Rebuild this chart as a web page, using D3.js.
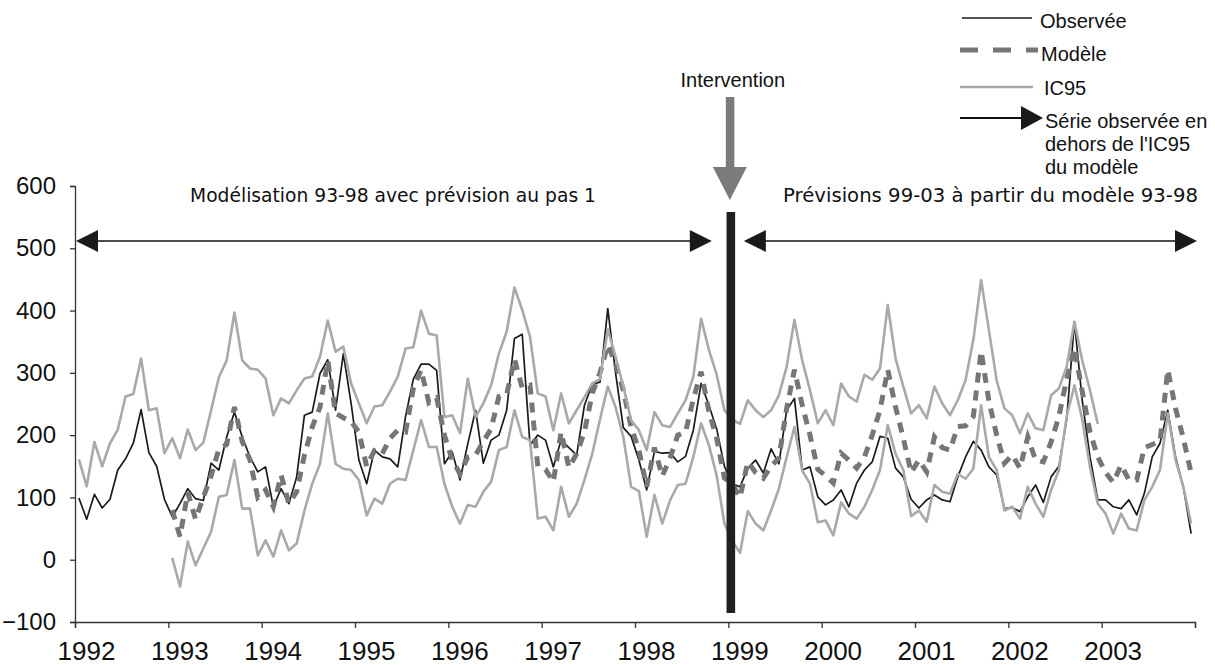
<!DOCTYPE html>
<html>
<head>
<meta charset="utf-8">
<script src="https://cdn.jsdelivr.net/npm/d3@7"></script>
<style>
  html, body { margin: 0; padding: 0; background: #ffffff; }
  svg { display: block; }
</style>
</head>
<body>
<svg id="chart" width="1215" height="665"></svg>
<script>
// ---- Data: monthly series, Jan 1992 to Dec 2003 (144 months) ----
const yearLabels = ["1992","1993","1994","1995","1996","1997","1998","1999","2000","2001","2002","2003"];
const yTickValues = [-100, 0, 100, 200, 300, 400, 500, 600];

const observed = [
  99,65,105,83,97,144,162,187,241,172,150,97,
  69,90,114,98,95,155,144,197,237,197,165,141,
  149,85,114,90,133,232,237,299,321,240,331,251,
  160,122,176,165,162,149,230,290,314,314,304,154,
  173,128,186,240,155,192,200,240,355,362,184,200,
  192,149,192,180,168,248,282,285,403,300,212,198,
  160,112,174,171,172,157,166,208,283,248,210,150,
  122,117,147,160,139,178,154,240,259,144,149,101,
  88,96,112,85,123,144,157,198,195,147,133,97,
  83,96,104,96,93,133,165,190,176,149,136,82,
  84,77,101,120,92,133,150,225,382,256,165,96,
  96,85,82,96,72,107,165,187,240,165,117,42
];

const model = [
  null,null,null,null,null,null,null,null,null,null,null,null,
  80,37,108,65,100,135,178,185,245,190,160,100,
  112,85,136,90,109,168,213,245,320,235,228,222,
  205,150,175,170,195,208,205,275,305,252,260,200,
  160,138,165,168,190,210,262,265,322,276,280,150,
  145,125,205,148,170,205,267,300,345,315,272,213,
  176,117,180,134,163,200,205,258,302,238,195,131,
  122,100,157,140,131,150,163,243,305,248,200,145,
  135,123,171,160,147,165,200,240,305,245,195,140,
  160,141,197,180,176,214,215,230,335,255,200,155,
  168,147,197,160,157,189,230,290,340,270,205,165,
  140,124,152,128,128,180,185,190,305,243,195,139
];

const icUpper = [
  161,118,189,150,187,209,262,266,323,240,243,171,
  195,163,209,176,188,240,293,320,397,320,307,305,
  291,232,259,251,272,291,294,326,384,334,342,283,
  251,219,246,248,270,294,339,341,400,363,360,229,
  232,203,291,229,251,280,331,366,437,401,358,267,
  262,208,267,219,240,261,283,290,370,326,278,224,
  208,176,237,216,213,235,256,294,387,337,297,240,
  225,218,256,240,229,240,264,310,385,320,272,219,
  240,216,283,262,254,297,289,307,409,323,278,235,
  248,227,278,251,232,256,288,353,449,369,288,243,
  232,203,235,211,208,264,275,310,382,320,272,218,
  null,null,null,null,null,null,null,null,null,null,null,null
];

const icLower = [
  null,null,null,null,null,null,null,null,null,null,null,null,
  3,-43,29,-9,18,45,101,104,160,82,82,7,
  31,5,47,15,26,79,122,154,235,154,146,144,
  128,71,98,90,122,130,128,176,224,181,181,122,
  85,58,88,85,109,125,176,181,240,197,192,66,
  69,47,117,69,90,128,170,225,278,245,197,117,
  110,37,104,58,95,120,122,165,219,184,135,58,
  30,11,78,58,47,79,114,165,213,143,122,60,
  63,39,92,74,66,85,112,144,216,170,144,70,
  79,61,120,109,106,138,130,146,248,165,144,79,
  85,66,117,90,69,112,144,230,280,225,149,90,
  74,42,74,50,47,96,117,144,235,160,117,58
];

const legendLabels = ["Observée", "Modèle", "IC95"];
const arrowNoteLines = ["Série observée en", "dehors de l'IC95", "du modèle"];
const periodLabels = ["Modélisation 93-98 avec prévision au pas 1", "Prévisions 99-03 à partir du modèle 93-98"];
const interventionLabel = "Intervention";
const interventionMonth = 84; // January 1999

// ---- Layout ----
const svg = d3.select("#chart");
const plot = { left: 75, right: 1195, top: 186, bottom: 622 };
const nMonths = observed.length;

const x = d3.scaleLinear().domain([0, nMonths]).range([plot.left, plot.right]);
const y = d3.scaleLinear().domain([-100, 600]).range([plot.bottom, plot.top]);

const axisFont = "'Liberation Sans', Arial, Helvetica, sans-serif";
const noteFont = "'DejaVu Sans', Verdana, sans-serif";

const C = {
  obs: "#1b1b1b",
  model: "#767676",
  ic: "#a9a9a9",
  axis: "#333333",
  bar: "#231f20",
  arrowGrey: "#7b7b7b"
};

// ---- Axes ----
const yAxis = d3.axisLeft(y)
  .tickValues(yTickValues)
  .tickSize(5)
  .tickPadding(14)
  .tickFormat(d3.format("d"));

svg.append("g")
  .attr("transform", `translate(${plot.left},0)`)
  .call(yAxis)
  .call(g => g.select(".domain").attr("stroke", C.axis).attr("stroke-width", 1.3))
  .call(g => g.selectAll(".tick line").attr("stroke", C.axis).attr("stroke-width", 1.3))
  .call(g => g.selectAll(".tick text")
    .attr("fill", "#111")
    .style("font-family", axisFont)
    .style("font-size", "24px"));

const xTickValues = d3.range(0, nMonths + 1, 12);
const xAxis = d3.axisBottom(x)
  .tickValues(xTickValues)
  .tickSize(6)
  .tickPadding(14)
  .tickFormat((d, i) => yearLabels[i] || "");

svg.append("g")
  .attr("transform", `translate(0,${plot.bottom})`)
  .call(xAxis)
  .call(g => g.select(".domain").attr("stroke", C.axis).attr("stroke-width", 1.3))
  .call(g => g.selectAll(".tick line").attr("stroke", C.axis).attr("stroke-width", 1.3))
  .call(g => g.selectAll(".tick text")
    .attr("fill", "#111")
    .attr("dx", 11)
    .style("font-family", axisFont)
    .style("font-size", "26px"));

// ---- Series ----
const line = d3.line()
  .defined(d => d !== null)
  .x((d, i) => x(i + 0.5))
  .y(d => y(d));

const series = svg.append("g").attr("fill", "none").attr("stroke-linejoin", "round");

series.append("path")
  .datum(observed)
  .attr("d", line)
  .attr("stroke", C.obs)
  .attr("stroke-width", 1.7);

series.append("path")
  .datum(model)
  .attr("d", line)
  .attr("stroke", C.model)
  .attr("stroke-width", 5)
  .attr("stroke-linejoin", "miter")
  .attr("stroke-dasharray", "10,8");

[icUpper, icLower].forEach(s => {
  series.append("path")
    .datum(s)
    .attr("d", line)
    .attr("stroke", C.ic)
    .attr("stroke-width", 2.6);
});

// ---- Intervention marker ----
const barX = x(interventionMonth) + 2.5;
svg.append("rect")
  .attr("x", barX - 4.3)
  .attr("y", 212)
  .attr("width", 8.6)
  .attr("height", 401)
  .attr("fill", C.bar);

svg.append("text")
  .attr("x", barX + 2)
  .attr("y", 87)
  .attr("text-anchor", "middle")
  .attr("fill", "#111")
  .style("font-family", axisFont)
  .style("font-size", "20px")
  .text(interventionLabel);

svg.append("rect")
  .attr("x", barX - 5)
  .attr("y", 97)
  .attr("width", 8.5)
  .attr("height", 71)
  .attr("fill", C.arrowGrey);
svg.append("path")
  .attr("d", `M${barX - 18},167 L${barX + 16},167 L${barX - 1},200 Z`)
  .attr("fill", C.arrowGrey);

// ---- Period arrows ----
const arrowY = 241;
function arrowHead(tipX, dir) {
  // dir = -1 points left, +1 points right
  const base = tipX - dir * 22;
  return `M${tipX},${arrowY} L${base},${arrowY - 11} L${base},${arrowY + 11} Z`;
}
const periods = [
  { from: plot.left + 1, to: barX - 19 },
  { from: barX + 13, to: plot.right + 2 }
];
periods.forEach(p => {
  svg.append("line")
    .attr("x1", p.from + 10).attr("x2", p.to - 10)
    .attr("y1", arrowY).attr("y2", arrowY)
    .attr("stroke", "#111").attr("stroke-width", 1.5);
  svg.append("path").attr("d", arrowHead(p.from, -1)).attr("fill", "#1a1a1a");
  svg.append("path").attr("d", arrowHead(p.to, 1)).attr("fill", "#1a1a1a");
});

svg.append("text")
  .attr("x", 190).attr("y", 202)
  .attr("textLength", 406).attr("lengthAdjust", "spacingAndGlyphs")
  .attr("fill", "#111")
  .style("font-family", noteFont).style("font-size", "19px")
  .text(periodLabels[0]);

svg.append("text")
  .attr("x", 783).attr("y", 202)
  .attr("textLength", 415).attr("lengthAdjust", "spacingAndGlyphs")
  .attr("fill", "#111")
  .style("font-family", noteFont).style("font-size", "19px")
  .text(periodLabels[1]);

// ---- Legend ----
const legend = svg.append("g").style("font-family", axisFont).style("font-size", "20px").attr("fill", "#111");

legend.append("line").attr("x1", 962).attr("x2", 1032).attr("y1", 18).attr("y2", 18)
  .attr("stroke", C.obs).attr("stroke-width", 1.7);
legend.append("text").attr("x", 1040).attr("y", 28).text(legendLabels[0]);

legend.append("line").attr("x1", 960).attr("x2", 1038).attr("y1", 50).attr("y2", 50)
  .attr("stroke", C.model).attr("stroke-width", 5).attr("stroke-dasharray", "18,15");
legend.append("text").attr("x", 1041).attr("y", 61).text(legendLabels[1]);

legend.append("line").attr("x1", 960).attr("x2", 1033).attr("y1", 87).attr("y2", 87)
  .attr("stroke", C.ic).attr("stroke-width", 2.6);
legend.append("text").attr("x", 1044).attr("y", 95).text(legendLabels[2]);

legend.append("line").attr("x1", 960).attr("x2", 1026).attr("y1", 118).attr("y2", 118)
  .attr("stroke", "#111").attr("stroke-width", 2);
legend.append("path").attr("d", "M1021,106 L1043,118 L1021,130 Z").attr("fill", "#1a1a1a");
arrowNoteLines.forEach((t, i) => {
  legend.append("text").attr("x", 1045).attr("y", 128 + i * 23).text(t);
});
</script>
</body>
</html>
